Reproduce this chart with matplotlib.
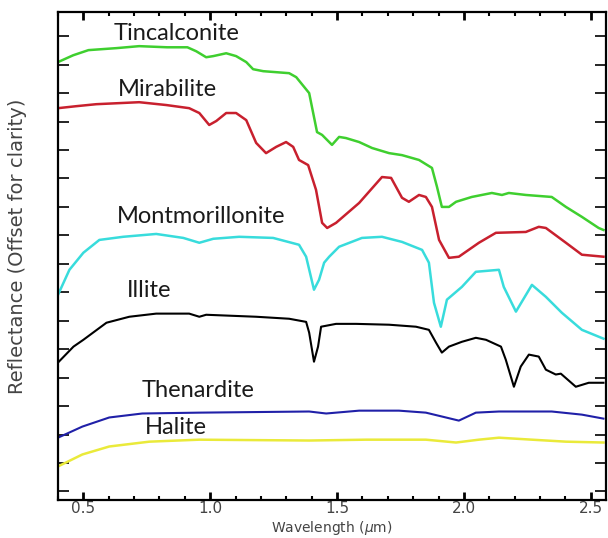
import matplotlib
matplotlib.use('Agg')
import matplotlib.pyplot as plt
from matplotlib.ticker import MultipleLocator, NullFormatter

# --- spectra (wavelength in um, reflectance offset for clarity) ---
tinc_wl = [0.40, 0.46, 0.52, 0.63, 0.72, 0.83, 0.91, 0.945, 0.984, 1.012, 1.063, 1.102, 1.142,
           1.169, 1.209, 1.311, 1.339, 1.39, 1.421, 1.441, 1.48, 1.508, 1.535, 1.587, 1.638,
           1.705, 1.756, 1.823, 1.874, 1.894, 1.913, 1.941, 1.969, 2.031, 2.11, 2.15, 2.177,
           2.244, 2.346, 2.402, 2.465, 2.531, 2.55]
tinc_r = [15.09, 15.33, 15.51, 15.58, 15.65, 15.61, 15.61, 15.47, 15.26, 15.30, 15.40, 15.30, 15.09,
          14.84, 14.77, 14.70, 14.56, 14.00, 12.63, 12.53, 12.18, 12.46, 12.42, 12.28, 12.07,
          11.89, 11.82, 11.65, 11.37, 10.70, 10.00, 10.00, 10.18, 10.35, 10.49, 10.42, 10.49,
          10.42, 10.35, 10.00, 9.65, 9.26, 9.19]

mira_wl = [0.40, 0.472, 0.551, 0.72, 0.827, 0.917, 0.957, 0.996, 1.024, 1.063, 1.102, 1.142,
           1.181, 1.22, 1.26, 1.299, 1.327, 1.35, 1.386, 1.417, 1.441, 1.461, 1.496, 1.587,
           1.677, 1.713, 1.756, 1.783, 1.823, 1.85, 1.874, 1.902, 1.941, 1.98, 2.059, 2.126,
           2.244, 2.295, 2.323, 2.402, 2.465, 2.55]
mira_r = [13.47, 13.54, 13.61, 13.68, 13.58, 13.47, 13.30, 12.88, 13.02, 13.30, 13.30, 13.05,
          12.25, 11.89, 12.11, 12.28, 12.11, 11.65, 11.47, 10.60, 9.44, 9.26, 9.44, 10.14,
          11.05, 11.02, 10.32, 10.18, 10.42, 10.35, 10.00, 8.84, 8.21, 8.25, 8.74, 9.09,
          9.12, 9.30, 9.26, 8.74, 8.32, 8.25]

mont_wl = [0.40, 0.445, 0.50, 0.563, 0.657, 0.787, 0.894, 0.957, 1.012, 1.114, 1.248, 1.35,
           1.378, 1.409, 1.429, 1.449, 1.469, 1.508, 1.598, 1.677, 1.756, 1.835, 1.862, 1.882,
           1.909, 1.933, 1.992, 2.047, 2.138, 2.157, 2.205, 2.268, 2.323, 2.386, 2.465, 2.55]
mont_r = [6.91, 7.79, 8.39, 8.84, 8.95, 9.05, 8.91, 8.74, 8.88, 8.95, 8.91, 8.67,
          8.25, 7.09, 7.44, 8.04, 8.25, 8.60, 8.91, 8.95, 8.77, 8.49, 8.04, 6.63,
          5.79, 6.74, 7.19, 7.72, 7.79, 7.19, 6.32, 7.26, 6.84, 6.28, 5.68, 5.37]

illi_wl = [0.40, 0.461, 0.50, 0.591, 0.681, 0.787, 0.917, 0.957, 0.984, 1.181, 1.311, 1.378,
           1.39, 1.409, 1.425, 1.437, 1.496, 1.575, 1.705, 1.811, 1.862, 1.89, 1.913, 1.941,
           1.992, 2.047, 2.087, 2.146, 2.165, 2.197, 2.224, 2.256, 2.295, 2.323, 2.362, 2.382,
           2.441, 2.492, 2.55]
illi_r = [4.53, 5.09, 5.33, 5.93, 6.14, 6.25, 6.25, 6.14, 6.21, 6.14, 6.07, 5.96,
          5.58, 4.56, 5.09, 5.79, 5.89, 5.89, 5.86, 5.79, 5.68, 5.23, 4.88, 5.09,
          5.26, 5.40, 5.33, 5.09, 4.63, 3.68, 4.39, 4.81, 4.74, 4.28, 4.11, 4.14,
          3.68, 3.82, 3.82]

then_wl = [0.40, 0.496, 0.602, 0.732, 0.957, 1.39, 1.457, 1.587, 1.744, 1.85, 1.929, 1.98,
           2.047, 2.138, 2.346, 2.465, 2.55]
then_r = [1.89, 2.28, 2.60, 2.74, 2.77, 2.81, 2.74, 2.84, 2.84, 2.77, 2.60, 2.49,
          2.77, 2.81, 2.81, 2.70, 2.56]

hali_wl = [0.40, 0.496, 0.602, 0.76, 0.957, 1.39, 1.614, 1.85, 1.969, 2.059, 2.138, 2.268,
           2.402, 2.55]
hali_r = [0.88, 1.30, 1.58, 1.75, 1.82, 1.79, 1.82, 1.82, 1.72, 1.82, 1.89, 1.82,
          1.75, 1.72]

names = ['Tincalconite', 'Mirabilite', 'Montmorillonite', 'Illite', 'Thenardite', 'Halite']
label_x = [0.866, 0.83, 0.965, 0.76, 0.953, 0.866]
label_y = [16.1, 14.14, 9.65, 7.05, 3.54, 2.25]

fig = plt.figure(figsize=(6.08, 5.38), dpi=100)
ax = fig.add_axes([58 / 608, 38 / 538, 548 / 608, 488 / 538])

ax.plot(tinc_wl, tinc_r, color='#3fcf2f', lw=1.8)
ax.plot(mira_wl, mira_r, color='#c8202e', lw=1.8)
ax.plot(mont_wl, mont_r, color='#38dcdc', lw=1.8)
ax.plot(illi_wl, illi_r, color='black', lw=1.5)
ax.plot(then_wl, then_r, color='#2020a8', lw=1.5)
ax.plot(hali_wl, hali_r, color='#eaea3a', lw=1.8)

for name, lx, ly in zip(names, label_x, label_y):
    ax.text(lx, ly, name, ha='center', va='center', fontsize=17,
            family='Lato', color='#1a1a1a')

ax.set_xlim(0.40, 2.56)
ax.set_ylim(-0.3, 16.85)

ax.xaxis.set_major_locator(MultipleLocator(0.5))
ax.xaxis.set_minor_locator(MultipleLocator(0.1))
ax.yaxis.set_major_locator(MultipleLocator(1))
ax.yaxis.set_major_formatter(NullFormatter())
ax.tick_params(axis='x', which='major', direction='in', length=6, width=2,
               top=True, labelsize=11, labelcolor='#444444', pad=1)
ax.tick_params(axis='x', which='minor', direction='in', length=3, width=1.5, top=True)
ax.tick_params(axis='y', which='major', direction='in', length=8, width=1.2, right=True)
for s in ax.spines.values():
    s.set_linewidth(1.6)

ax.set_xlabel('Wavelength ($\\mu$m)', fontsize=10, color='#444444')
ax.xaxis.set_label_coords(0.5, -0.0395)
ax.set_ylabel('Reflectance (Offset for clarity)', fontsize=14, color='#444444')
ax.yaxis.set_label_coords(-0.056, 0.52)

fig.savefig('out.png', dpi=100)
